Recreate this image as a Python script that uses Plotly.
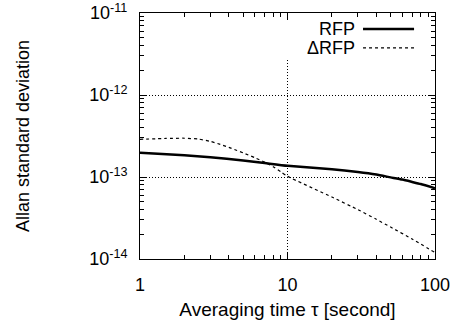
import plotly.graph_objects as go

# ---- data ----
tau_rfp = [1, 2, 3, 5, 7, 10, 20, 30, 40, 50, 60, 70, 80, 100]
adev_rfp = [1.98e-13, 1.84e-13, 1.74e-13, 1.59e-13, 1.48e-13, 1.37e-13,
            1.245e-13, 1.15e-13, 1.07e-13, 9.9e-14, 9.3e-14, 8.7e-14, 8.2e-14, 7.3e-14]

tau_drfp = [1, 1.5, 2, 2.5, 3, 3.5, 4, 4.5, 5, 6, 7, 8, 9, 10, 20, 30, 40, 50, 70, 100]
adev_drfp = [2.88e-13, 2.95e-13, 2.97e-13, 2.9e-13, 2.72e-13, 2.5e-13, 2.3e-13,
             2.12e-13, 1.97e-13, 1.72e-13, 1.52e-13, 1.33e-13, 1.16e-13, 1.02e-13,
             5.7e-14, 4.0e-14, 3.05e-14, 2.45e-14, 1.75e-14, 1.2e-14]

series_names = ["RFP", "ΔRFP"]

y_tickvals = [1e-14, 1e-13, 1e-12, 1e-11]
y_ticktext = ["10<sup>-14</sup>", "10<sup>-13</sup>", "10<sup>-12</sup>", "10<sup>-11</sup>"]
x_tickvals = [1, 10, 100]
x_ticktext = ["1", "10", "100"]

# minor tick positions (2..9 within each decade)
x_minor = [m * 10 ** e for e in range(0, 2) for m in range(2, 10)]
y_minor = [m * 10.0 ** e for e in range(-14, -11) for m in range(2, 10)]

X_RANGE = [0, 2]      # log10 of 1 .. 100
Y_RANGE = [-14, -11]  # log10 of 1e-14 .. 1e-11

FONT = "Liberation Sans, Arial, Helvetica, sans-serif"
styles = [dict(color="black", width=2.5, dash="solid"),
          dict(color="black", width=1.2, dash="3px,3px")]

fig = go.Figure()
for name, xs, ys, st in zip(series_names, [tau_rfp, tau_drfp], [adev_rfp, adev_drfp], styles):
    fig.add_trace(go.Scatter(x=xs, y=ys, mode="lines", name=name,
                             line=dict(shape="spline", smoothing=0.5, **st),
                             showlegend=False))
# invisible traces on the overlay axes that only carry the tick marks
for xa, ya in [("x2", "y2"), ("x3", "y3")]:
    fig.add_trace(go.Scatter(x=[tau_rfp[0], tau_rfp[-1]], y=[adev_rfp[0], adev_rfp[-1]],
                             xaxis=xa, yaxis=ya, mode="markers", marker=dict(opacity=0),
                             showlegend=False, hoverinfo="skip"))

# gnuplot-style key: right-aligned text with the sample line on its right
key_rows_y = [0.935, 0.858]
for name, st, yk in zip(series_names, styles, key_rows_y):
    fig.add_annotation(xref="paper", yref="paper", x=0.7356, y=yk, text=name,
                       showarrow=False, xanchor="right", yanchor="middle",
                       font=dict(family=FONT, size=18, color="black"))
    fig.add_shape(type="line", xref="paper", yref="paper",
                  x0=0.756, x1=0.929, y0=yk, y1=yk, line=st)

# vertical grid line at tau=10 (interrupted by the key area)
fig.add_shape(type="line", xref="x", yref="y domain", x0=10, x1=10, y0=0, y1=0.817,
              line=dict(color="black", width=1, dash="1px,2px"), layer="below")

# main axes: border, labels, titles, grid (tick marks are drawn by overlay axes)
axis_common = dict(type="log", showline=True, linecolor="black", linewidth=1, mirror=True,
                   ticks="", tickfont=dict(family=FONT, size=18, color="black"),
                   zeroline=False, automargin=False, tickmode="array",
                   ticklabeloverflow="allow")

tick_common = dict(type="log", showline=False, mirror="ticks", ticks="inside",
                   tickcolor="black", tickwidth=1, showticklabels=False, showgrid=False,
                   zeroline=False, automargin=False, tickmode="array")

fig.update_layout(
    width=454, height=320, margin=dict(l=140, r=19, t=13, b=61),
    paper_bgcolor="white", plot_bgcolor="white",
    font=dict(family=FONT, size=18, color="black"),
    xaxis=dict(range=X_RANGE, tickvals=x_tickvals, ticktext=x_ticktext,
               showgrid=False, ticklabelstandoff=9,
               title=dict(text="Averaging time τ [second]", standoff=14,
                          font=dict(family=FONT, size=19, color="black")),
               **axis_common),
    yaxis=dict(range=Y_RANGE, tickvals=y_tickvals, ticktext=y_ticktext,
               showgrid=True, gridcolor="black", gridwidth=1, griddash="1px,2px",
               ticklabelstandoff=8,
               title=dict(text="Allan standard deviation", standoff=54,
                          font=dict(family=FONT, size=18, color="black")),
               **axis_common),
    # major tick marks
    xaxis2=dict(overlaying="x", range=X_RANGE, tickvals=x_tickvals, ticklen=7, **tick_common),
    yaxis2=dict(overlaying="y", range=Y_RANGE, tickvals=y_tickvals, ticklen=7, **tick_common),
    # minor tick marks
    xaxis3=dict(overlaying="x", range=X_RANGE, tickvals=x_minor, ticklen=4, **tick_common),
    yaxis3=dict(overlaying="y", range=Y_RANGE, tickvals=y_minor, ticklen=4, **tick_common),
)

fig.write_html("out.html")
